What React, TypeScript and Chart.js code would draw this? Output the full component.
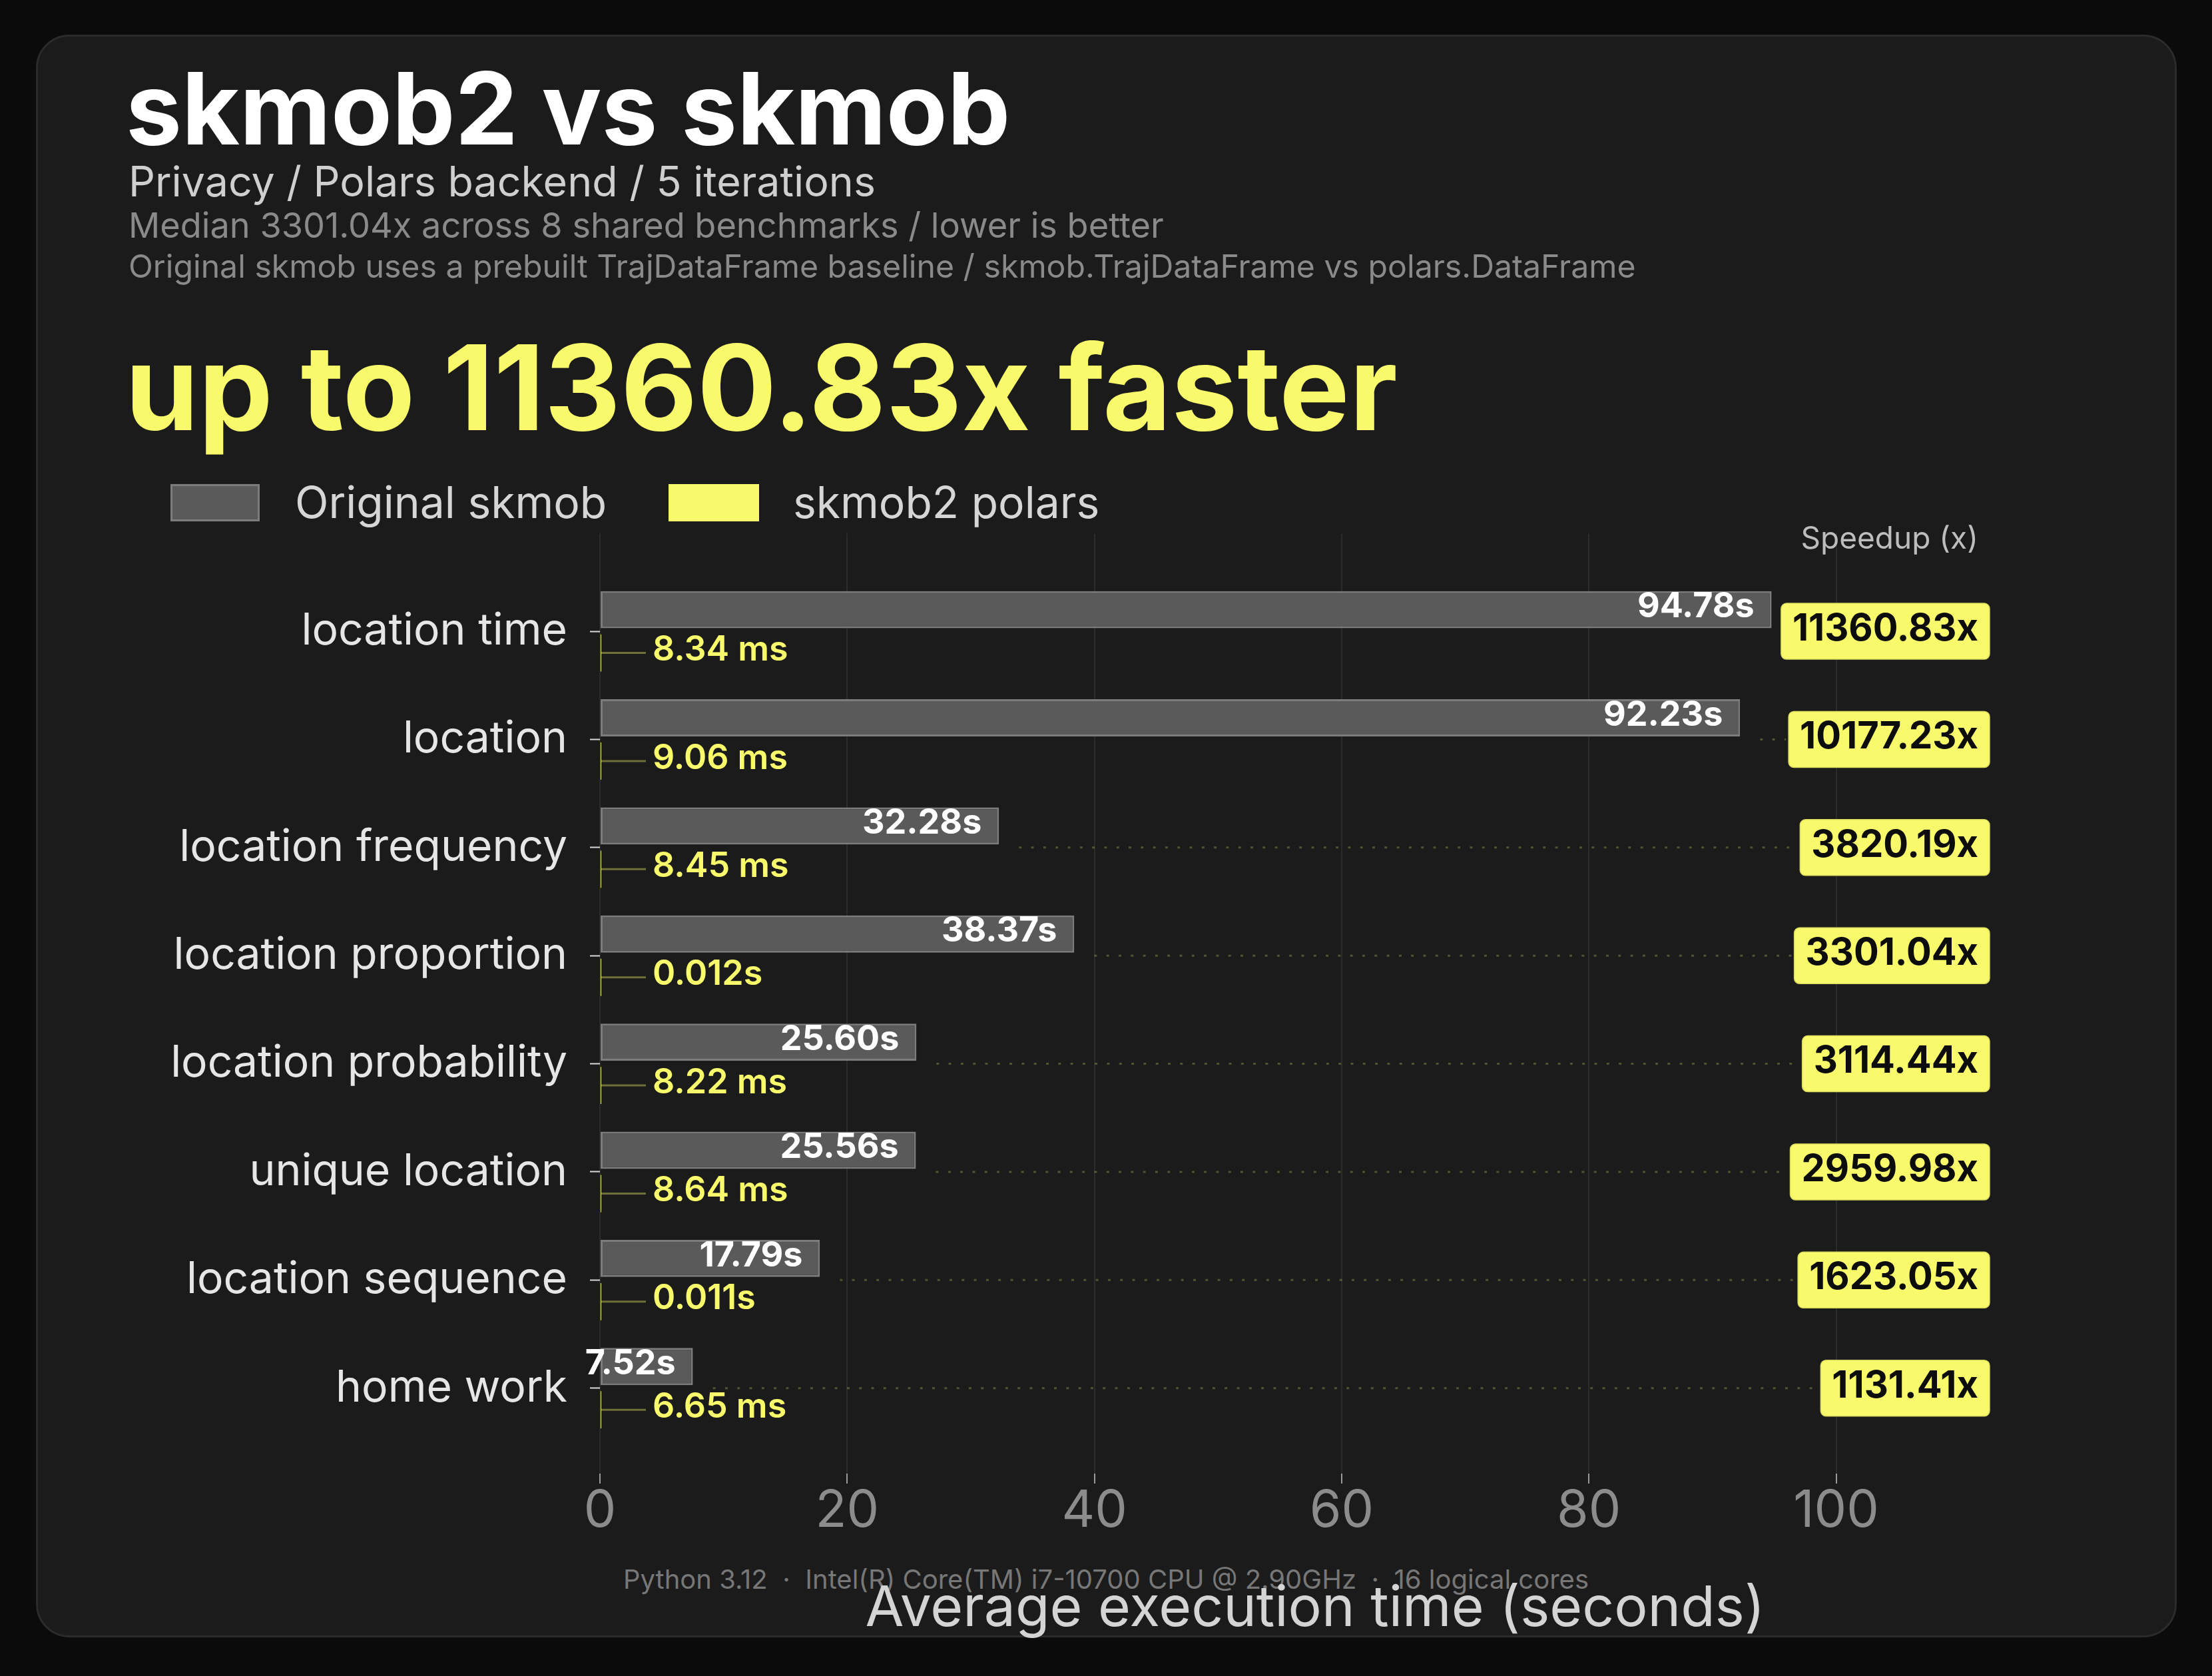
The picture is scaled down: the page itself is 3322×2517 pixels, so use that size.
import React, { useEffect, useRef } from "react";
import { Chart, registerables } from "chart.js";

Chart.register(...registerables);

const FONT = "Inter, 'Noto Sans', sans-serif";
const YEL = "#f9fa6b";

const categories = [
  "location time",
  "location",
  "location frequency",
  "location proportion",
  "location probability",
  "unique location",
  "location sequence",
  "home work",
];
const originalSeconds = [94.78, 92.23, 32.28, 38.37, 25.6, 25.56, 17.79, 7.52];
const polarsSeconds = [0.00834, 0.00906, 0.00845, 0.012, 0.00822, 0.00864, 0.011, 0.00665];
const speedups = [11360.83, 10177.23, 3820.19, 3301.04, 3114.44, 2959.98, 1623.05, 1131.41];
const xTicks = [0, 20, 40, 60, 80, 100];

const fmtPolars = (v: number) => (v < 0.01 ? `${(v * 1000).toFixed(2)} ms` : `${v.toFixed(3)}s`);

const annotPlugin = {
  id: "annot",
  afterDatasetsDraw(chart: any) {
    const ctx = chart.ctx as CanvasRenderingContext2D;
    const ys = chart.scales.y;
    const area = chart.chartArea;
    const gray = chart.getDatasetMeta(0).data;
    const yel = chart.getDatasetMeta(1).data;
    const badgeRight = area.right - 61;
    ctx.save();
    ctx.font = `400 46px ${FONT}`;
    ctx.fillStyle = "#bdbdbd";
    ctx.textAlign = "right";
    ctx.textBaseline = "alphabetic";
    ctx.fillText("Speedup (x)", badgeRight - 17, area.top + 23);

    categories.forEach((_, i) => {
      const cy = ys.getPixelForValue(i);
      const g = gray[i];
      const yb = yel[i];
      ctx.font = `700 56px ${FONT}`;
      const txt = `${speedups[i].toFixed(2)}x`;
      const tw = ctx.measureText(txt).width;
      const bw = tw + 34;
      const bh = 84;
      const bx = badgeRight - bw;
      const by = cy - bh / 2;
      const startX = g.x + 30;
      if (bx - 6 > startX) {
        ctx.save();
        ctx.setLineDash([4, 14.3]);
        ctx.strokeStyle = "rgba(249,250,107,0.25)";
        ctx.lineWidth = 3;
        ctx.beginPath();
        ctx.moveTo(startX, cy);
        ctx.lineTo(bx - 4, cy);
        ctx.stroke();
        ctx.restore();
      }
      ctx.fillStyle = YEL;
      ctx.strokeStyle = "#d9da5c";
      ctx.lineWidth = 1.5;
      ctx.beginPath();
      (ctx as any).roundRect(bx, by, bw, bh, 8);
      ctx.fill();
      ctx.stroke();
      ctx.fillStyle = "#0d0d0d";
      ctx.textAlign = "right";
      ctx.textBaseline = "middle";
      ctx.fillText(txt, badgeRight - 17, cy - 3);

      ctx.font = `700 52px ${FONT}`;
      ctx.fillStyle = "#ffffff";
      ctx.textAlign = "right";
      ctx.textBaseline = "middle";
      ctx.fillText(`${originalSeconds[i].toFixed(2)}s`, g.x - 26, g.y - 4);

      ctx.strokeStyle = "rgba(249,250,107,0.38)";
      ctx.lineWidth = 3;
      ctx.beginPath();
      ctx.moveTo(yb.base, yb.y);
      ctx.lineTo(yb.base + 68, yb.y);
      ctx.stroke();
      ctx.font = `600 52px ${FONT}`;
      ctx.fillStyle = YEL;
      ctx.textAlign = "left";
      ctx.fillText(fmtPolars(polarsSeconds[i]), yb.base + 78, yb.y - 4);
    });
    ctx.restore();
  },
};

function T(props: {
  left: number;
  top: number;
  size: number;
  weight?: number;
  color: string;
  text: string;
  width?: number;
  align?: "left" | "center";
}) {
  return (
    <div
      style={{
        position: "absolute",
        left: props.left,
        top: props.top,
        width: props.width,
        textAlign: props.align || "left",
        fontFamily: FONT,
        fontSize: props.size,
        lineHeight: `${props.size}px`,
        fontWeight: props.weight || 400,
        color: props.color,
        whiteSpace: "pre",
      }}
    >
      {props.text}
    </div>
  );
}

export default function App() {
  const ref = useRef<HTMLCanvasElement>(null);
  useEffect(() => {
    Chart.defaults.font.family = FONT;
    const chart = new Chart(ref.current!, {
      type: "bar",
      data: {
        datasets: [
          {
            label: "Original skmob",
            data: originalSeconds.map((v, i) => ({ x: v, y: i })),
            backgroundColor: "#5a5a5a",
            borderColor: "#7c7c7c",
            borderWidth: 3,
            borderSkipped: false,
            categoryPercentage: 0.8,
            barPercentage: 0.86,
          },
          {
            label: "skmob2 polars",
            data: polarsSeconds.map((v, i) => ({ x: v, y: i })),
            backgroundColor: YEL,
            borderWidth: 0,
            minBarLength: 2,
            categoryPercentage: 0.8,
            barPercentage: 0.86,
          },
        ],
      } as any,
      options: {
        indexAxis: "y",
        responsive: false,
        animation: false,
        devicePixelRatio: 1,
        layout: { padding: { left: 0, top: 801, right: 273, bottom: 50 } },
        plugins: { legend: { display: false }, tooltip: { enabled: false } },
        scales: {
          x: {
            type: "linear",
            min: 0,
            max: 115.7,
            offset: false,
            afterBuildTicks: (s: any) => {
              s.ticks = xTicks.map((v) => ({ value: v }));
            },
            afterFit: (s: any) => {
              s.height = 254;
            },
            grid: { offset: false, color: "#2b2b2b", lineWidth: 2, tickLength: 15, tickColor: "#9a9a9a", tickWidth: 2 },
            border: { display: false },
            ticks: { color: "#8c8c8c", font: { size: 77 }, padding: -4 },
            title: {
              display: true,
              text: "Average execution time (seconds)",
              color: "#d4d4d4",
              font: { size: 84 },
              padding: 0,
            },
          },
          y: {
            type: "linear",
            min: -0.906,
            max: 7.79,
            reverse: true,
            offset: false,
            afterBuildTicks: (s: any) => {
              s.ticks = categories.map((_, i) => ({ value: i }));
            },
            afterFit: (s: any) => {
              s.width = 901;
            },
            grid: { offset: false, drawOnChartArea: false, tickLength: 15, tickColor: "#d8d8d8", tickWidth: 2 },
            border: { display: false },
            ticks: {
              color: "#e6e6e6",
              font: { size: 66 },
              padding: 34,
              autoSkip: false,
              callback: (v: any) => categories[v] ?? "",
            },
          },
        },
      } as any,
      plugins: [annotPlugin],
    });
    return () => chart.destroy();
  }, []);

  return (
    <div
      style={{
        position: "fixed",
        left: 0,
        top: 0,
        width: 3322,
        height: 2517,
        background: "#0b0b0b",
        overflow: "hidden",
      }}
    >
      <div
        style={{
          position: "absolute",
          left: 54,
          top: 52,
          width: 3215,
          height: 2407,
          boxSizing: "border-box",
          background: "#1b1b1b",
          border: "3px solid #2b2b2b",
          borderRadius: 50,
        }}
      />
      <T left={189} top={88} size={150} weight={700} color="#ffffff" text="skmob2 vs skmob" />
      <T left={193} top={241} size={62.7} color="#cfcfcf" text="Privacy / Polars backend / 5 iterations" />
      <T left={193} top={312} size={52.3} color="#8a8a8a" text="Median 3301.04x across 8 shared benchmarks / lower is better" />
      <T
        left={193}
        top={376}
        size={48.2}
        color="#8a8a8a"
        text="Original skmob uses a prebuilt TrajDataFrame baseline / skmob.TrajDataFrame vs polars.DataFrame"
      />
      <T left={188} top={494} size={177} weight={700} color={YEL} text="up to 11360.83x faster" />
      <div
        style={{
          position: "absolute",
          left: 256,
          top: 727,
          width: 134,
          height: 56,
          boxSizing: "border-box",
          background: "#5a5a5a",
          border: "3px solid #7c7c7c",
        }}
      />
      <T left={443} top={721} size={66} color="#d6d6d6" text="Original skmob" />
      <div style={{ position: "absolute", left: 1004, top: 727, width: 136, height: 56, background: YEL }} />
      <T left={1191} top={721} size={66} color="#d6d6d6" text="skmob2 polars" />
      <T
        left={0}
        width={3322}
        align="center"
        top={2352}
        size={40}
        color="#777777"
        text={"Python 3.12  \u00b7  Intel(R) Core(TM) i7-10700 CPU @ 2.90GHz  \u00b7  16 logical cores"}
      />
      <canvas
        ref={ref}
        width={3322}
        height={2517}
        style={{ position: "absolute", left: 0, top: 0, width: 3322, height: 2517 }}
      />
    </div>
  );
}
